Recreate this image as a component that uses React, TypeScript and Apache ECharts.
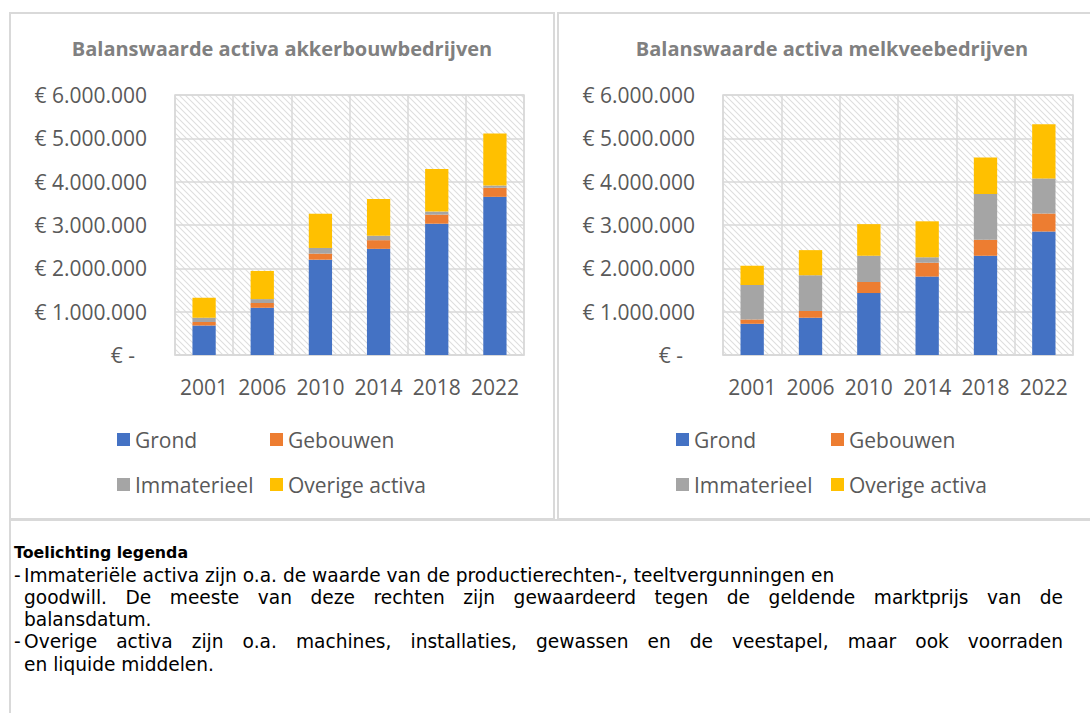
import React, { useEffect, useRef } from "react";
import * as echarts from "echarts";

const years = ["2001", "2006", "2010", "2014", "2018", "2022"];
const seriesNames = ["Grond", "Gebouwen", "Immaterieel", "Overige activa"];
const colors = ["#4472C4", "#ED7D31", "#A5A5A5", "#FFC000"];

const akkerGrond = [680000, 1090000, 2200000, 2450000, 3030000, 3650000];
const akkerGebouwen = [80000, 110000, 140000, 200000, 210000, 210000];
const akkerImmaterieel = [100000, 90000, 130000, 100000, 70000, 50000];
const akkerOverige = [460000, 650000, 790000, 850000, 980000, 1200000];

const melkGrond = [720000, 860000, 1430000, 1810000, 2290000, 2850000];
const melkGebouwen = [100000, 155000, 255000, 320000, 370000, 415000];
const melkImmaterieel = [795000, 825000, 605000, 125000, 1055000, 810000];
const melkOverige = [445000, 580000, 730000, 830000, 845000, 1250000];

const titles = ["Balanswaarde activa akkerbouwbedrijven", "Balanswaarde activa melkveebedrijven"];
const noteTitle = "Toelichting legenda";
const noteLines = [
  { bullet: true, justify: false, text: "Immateriële activa zijn o.a. de waarde van de productierechten-, teeltvergunningen en" },
  { bullet: false, justify: true, text: "goodwill. De meeste van deze rechten zijn gewaardeerd tegen de geldende marktprijs van de" },
  { bullet: false, justify: false, text: "balansdatum." },
  { bullet: true, justify: true, text: "Overige activa zijn o.a. machines, installaties, gewassen en de veestapel, maar ook voorraden" },
  { bullet: false, justify: false, text: "en liquide middelen." },
];

const FONT = "'Open Sans', 'Noto Sans', sans-serif";
const BODY_FONT = "'DejaVu Sans', Verdana, sans-serif";
const BODY_SIZE = 18.6;
const GRID_COLOR = "#d9d9d9";
const LABEL_COLOR = "#595959";

function fmt(v: number) {
  if (v === 0) return "{z|€ -}";
  const s = String(Math.round(v)).replace(/\B(?=(\d{3})+(?!\d))/g, ".");
  return "€ " + s;
}

function makeHatch() {
  const c = document.createElement("canvas");
  c.width = 6;
  c.height = 6;
  const ctx = c.getContext("2d")!;
  ctx.fillStyle = "#ffffff";
  ctx.fillRect(0, 0, 6, 6);
  ctx.strokeStyle = "#dedede";
  ctx.lineWidth = 1.1;
  ctx.beginPath();
  ctx.moveTo(-1, -1);
  ctx.lineTo(7, 7);
  ctx.moveTo(-1, 5);
  ctx.lineTo(1, 7);
  ctx.moveTo(5, -1);
  ctx.lineTo(7, 1);
  ctx.stroke();
  return { image: c, repeat: "repeat", imageWidth: 6, imageHeight: 6 } as any;
}

export default function App() {
  const ref = useRef<HTMLDivElement>(null);

  useEffect(() => {
    if (!ref.current) return;
    const chart = echarts.init(ref.current, null, { renderer: "svg" });
    const hatch = makeHatch();

    const grids = [
      { left: 175, top: 95, width: 349, height: 260 },
      { left: 723, top: 95, width: 350, height: 260 },
    ];

    const data = [
      [akkerGrond, akkerGebouwen, akkerImmaterieel, akkerOverige],
      [melkGrond, melkGebouwen, melkImmaterieel, melkOverige],
    ];

    const series: any[] = [];
    data.forEach((group, gi) => {
      group.forEach((vals, si) => {
        series.push({
          type: "bar",
          name: seriesNames[si],
          stack: "s" + gi,
          xAxisIndex: gi,
          yAxisIndex: gi,
          barWidth: "40%",
          itemStyle: { color: colors[si] },
          data: vals,
        });
      });
    });

    const legendBase = {
      orient: "vertical",
      top: 429,
      padding: 0,
      icon: "rect",
      itemWidth: 13,
      itemHeight: 13,
      itemGap: 24,
      itemTextGap: 5,
      selectedMode: false,
      textStyle: { fontFamily: FONT, fontSize: 21, color: LABEL_COLOR, lineHeight: 21 },
    };

    const graphic: any[] = [
      { type: "rect", shape: { x: 10, y: 13, width: 544, height: 506 }, style: { fill: "none", stroke: GRID_COLOR, lineWidth: 2 } },
      { type: "rect", shape: { x: 558, y: 13, width: 540, height: 506 }, style: { fill: "none", stroke: GRID_COLOR, lineWidth: 2 } },
      { type: "rect", shape: { x: 10, y: 520, width: 1090, height: 200 }, style: { fill: "none", stroke: GRID_COLOR, lineWidth: 2 } },
      {
        type: "text", x: 282, y: 48,
        style: { text: titles[0], fill: "#808080", font: `bold 20px ${FONT}`, textAlign: "center", textVerticalAlign: "middle" },
      },
      {
        type: "text", x: 832, y: 48,
        style: { text: titles[1], fill: "#808080", font: `bold 20px ${FONT}`, textAlign: "center", textVerticalAlign: "middle" },
      },
      {
        type: "text", x: 14, y: 552,
        style: { text: noteTitle, fill: "#000000", font: `bold 15.8px ${BODY_FONT}`, textVerticalAlign: "middle" },
      },
    ];

    const bodyFont = `${BODY_SIZE}px ${BODY_FONT}`;
    const mc = document.createElement("canvas").getContext("2d")!;
    mc.font = bodyFont;
    const textLeft = 24;
    const textRight = 1063;

    noteLines.forEach((ln, i) => {
      const y = 575 + i * 22.3;
      if (ln.bullet) {
        graphic.push({
          type: "text", x: 14, y,
          style: { text: "-", fill: "#000000", font: bodyFont, textVerticalAlign: "middle" },
        });
      }
      if (!ln.justify) {
        graphic.push({
          type: "text", x: textLeft, y,
          style: { text: ln.text, fill: "#000000", font: bodyFont, textVerticalAlign: "middle" },
        });
      } else {
        const words = ln.text.split(" ");
        const widths = words.map((w) => mc.measureText(w).width);
        const total = widths.reduce((a, b) => a + b, 0);
        const gap = (textRight - textLeft - total) / (words.length - 1);
        let x = textLeft;
        const children: any[] = [];
        words.forEach((w, wi) => {
          children.push({
            type: "text", x, y,
            style: { text: w, fill: "#000000", font: bodyFont, textVerticalAlign: "middle" },
          });
          x += widths[wi] + gap;
        });
        graphic.push({ type: "group", children });
      }
    });

    const option: any = {
      animation: false,
      backgroundColor: "#ffffff",
      grid: grids.map((g) => ({
        ...g,
        show: true,
        backgroundColor: hatch,
        borderColor: GRID_COLOR,
        borderWidth: 1.5,
        containLabel: false,
      })),
      xAxis: [0, 1].map((i) => ({
        type: "category",
        gridIndex: i,
        data: years,
        boundaryGap: true,
        axisLine: { show: true, lineStyle: { color: GRID_COLOR, width: 1.5 } },
        axisTick: { show: false },
        splitLine: { show: true, interval: 0, lineStyle: { color: GRID_COLOR, width: 1.5 } },
        axisLabel: { interval: 0, fontFamily: FONT, fontSize: 21, color: LABEL_COLOR, margin: 21 },
      })),
      yAxis: [0, 1].map((i) => ({
        type: "value",
        gridIndex: i,
        min: 0,
        max: 6000000,
        interval: 1000000,
        axisLine: { show: false },
        axisTick: { show: false },
        splitLine: { show: true, lineStyle: { color: GRID_COLOR, width: 1.5 } },
        axisLabel: {
          fontFamily: FONT,
          fontSize: 21,
          color: LABEL_COLOR,
          margin: 28,
          formatter: fmt,
          rich: { z: { fontFamily: FONT, fontSize: 21, color: LABEL_COLOR, padding: [0, 12, 0, 0] } },
        },
      })),
      legend: [
        { ...legendBase, left: 117, data: ["Grond", "Immaterieel"] },
        { ...legendBase, left: 270, data: ["Gebouwen", "Overige activa"] },
        { ...legendBase, left: 676, data: ["Grond", "Immaterieel"] },
        { ...legendBase, left: 831, data: ["Gebouwen", "Overige activa"] },
      ],
      series,
      graphic,
    };

    chart.setOption(option);
    return () => chart.dispose();
  }, []);

  return (
    <div
      ref={ref}
      style={{ position: "fixed", left: 0, top: 0, width: 1090, height: 713, background: "#fff" }}
    />
  );
}
